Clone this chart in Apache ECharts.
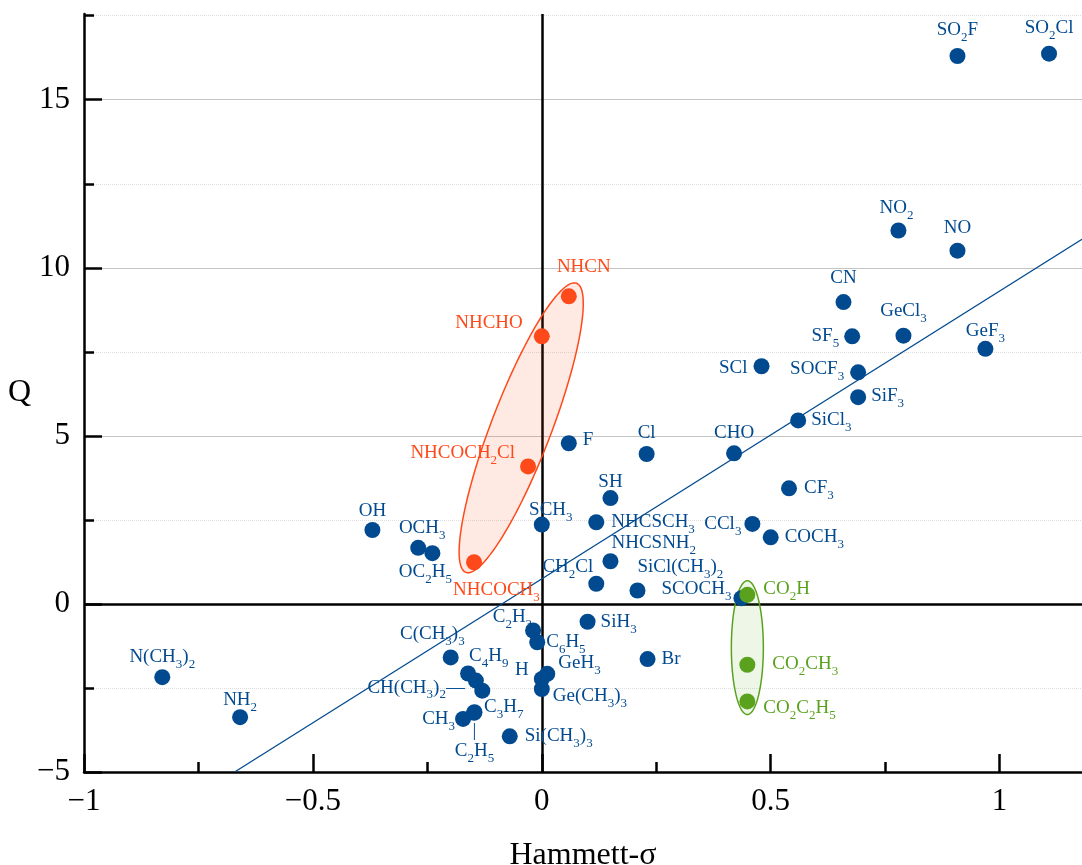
<!DOCTYPE html>
<html>
<head>
<meta charset="utf-8">
<script src="https://cdn.jsdelivr.net/npm/echarts@6/dist/echarts.min.js"></script>
<style>
html, body { margin: 0; padding: 0; background: #fff; }
#chart { width: 1082px; height: 865px; }
</style>
</head>
<body>
<div id="chart"></div>
<script>
// Substituents: Hammett sigma (x) against Q (y)
const blueNames = ['SO2F', 'SO2Cl', 'NO2', 'NO', 'CN', 'SF5', 'GeCl3', 'GeF3', 'SCl', 'SOCF3',
  'SiF3', 'SiCl3', 'CHO', 'CF3', 'CCl3', 'COCH3', 'F', 'Cl', 'SH', 'SCH3',
  'NHCSCH3', 'NHCSNH2', 'OH', 'OCH3', 'OC2H5', 'CH2Cl', 'SiCl(CH3)2', 'SCOCH3', 'C2H3', 'C6H5',
  'C(CH3)3', 'C4H9', 'CH(CH3)2', '', 'GeH3', 'H', 'Ge(CH3)3', 'C3H7', 'C2H5', 'CH3',
  'Si(CH3)3', 'SiH3', 'Br', 'N(CH3)2', 'NH2'];
const blueX = [0.908, 1.108, 0.779, 0.908, 0.659, 0.678, 0.790, 0.969, 0.480, 0.691,
  0.691, 0.560, 0.420, 0.540, 0.460, 0.500, 0.059, 0.229, 0.150, 0.000,
  0.119, 0.150, -0.370, -0.270, -0.239, 0.119, 0.209, 0.436, -0.019, -0.010,
  -0.199, -0.161, -0.144, -0.130, 0.012, 0.000, 0.000, -0.148, -0.147, -0.172,
  -0.070, 0.100, 0.231, -0.829, -0.659];
const blueY = [16.30, 16.37, 11.11, 10.51, 8.98, 7.96, 7.98, 7.59, 7.07, 6.89,
  6.15, 5.46, 4.48, 3.44, 2.38, 1.98, 4.78, 4.46, 3.15, 2.36,
  2.43, 1.27, 2.20, 1.67, 1.51, 0.60, 0.40, 0.17, -0.79, -1.14,
  -1.59, -2.07, -2.28, -2.58, -2.08, -2.23, -2.53, -3.24, -3.22, -3.42,
  -3.94, -0.53, -1.64, -2.18, -3.37];

const orangeNames = ['NHCN', 'NHCHO', 'NHCOCH2Cl', 'NHCOCH3'];
const orangeX = [0.059, 0.000, -0.030, -0.148];
const orangeY = [9.15, 7.96, 4.09, 1.24];

const greenNames = ['CO2H', 'CO2CH3', 'CO2C2H5'];
const greenX = [0.449, 0.449, 0.449];
const greenY = [0.27, -1.81, -2.90];

// Fitted trend line end points
const trendX = [-0.671, 1.18];
const trendY = [-5, 10.85];

const xTicks = [-1, -0.5, 0, 0.5, 1];
const yTicks = [-5, 0, 5, 10, 15];

const BLUE = '#024a8f';
const ORANGE = '#fe4a1a';
const GREEN = '#5aa21e';
const FONT = 'Liberation Serif';

// Label placement per substituent: [anchor, dx, dy, extra]
const place = {
  'SO2F': ['c', 0, -26], 'SO2Cl': ['c', 0, -26], 'NO2': ['c', -2, -22], 'NO': ['c', 0, -23],
  'CN': ['c', 0, -24], 'SF5': ['r', -13, 0], 'GeCl3': ['c', 0, -25], 'GeF3': ['c', 0, -18],
  'SCl': ['r', -14, 2], 'SOCF3': ['r', -14, -3], 'SiF3': ['l', 13, -1], 'SiCl3': ['l', 13, 0],
  'CHO': ['c', 0, -20], 'CF3': ['l', 15, 0], 'CCl3': ['r', -11, 0], 'COCH3': ['l', 14, 0],
  'F': ['l', 14, -3], 'Cl': ['c', 0, -21], 'SH': ['c', 0, -16], 'SCH3': ['c', 9, -15],
  'NHCSCH3': ['l', 15, 0], 'NHCSNH2': ['l', 1, -18], 'OH': ['c', 0, -19], 'OCH3': ['c', 4, -20],
  'OC2H5': ['c', -7, 19], 'CH2Cl': ['r', -3, -17], 'SiCl(CH3)2': ['l', 0, -23], 'SCOCH3': ['r', -10, -9],
  'C2H3': ['r', -1, -13], 'C6H5': ['l', 9, 0], 'C(CH3)3': ['r', 14, -23], 'C4H9': ['l', 1, -17],
  'CH(CH3)2': ['r', -11, 7, 'dash'], 'GeH3': ['l', 11, -11], 'H': ['r', -13, -9], 'Ge(CH3)3': ['l', 11, 7],
  'C3H7': ['l', 10, -6], 'C2H5': ['c', 0, 10, 'bar'], 'CH3': ['r', -8, 0], 'Si(CH3)3': ['l', 15, 0],
  'SiH3': ['l', 13, 0], 'Br': ['l', 14, 0], 'N(CH3)2': ['c', 0, -20], 'NH2': ['c', 0, -17],
  'NHCN': ['c', 15, -29], 'NHCHO': ['r', -19, -13], 'NHCOCH2Cl': ['r', -13, -13], 'NHCOCH3': ['l', -21, 28],
  'CO2H': ['l', 16, -6], 'CO2CH3': ['l', 25, -1], 'CO2C2H5': ['l', 16, 7]
};

// Group outlines: major-axis tips in data units, half width in pixels
const groupOutlines = [
  { from: [0.076, 9.54], to: [-0.166, 0.94], halfWidth: 30, stroke: ORANGE, fill: 'rgba(254,74,26,0.12)' },
  { from: [0.449, 0.69], to: [0.449, -3.29], halfWidth: 16, stroke: GREEN, fill: 'rgba(90,162,30,0.10)' }
];

// chemical formula -> rich text with subscript digits
function chem(name) {
  return name.replace(/(\d+)|([^\d]+)/g, (m, d, t) => d ? '{s|' + d + '}' : '{n|' + t + '}');
}
function labelText(name) {
  if (!name) return '';
  const p = place[name] || [];
  let txt = chem(name);
  if (p[3] === 'dash') txt += '{n|—}';
  if (p[3] === 'bar') txt = '{bar||}\n' + txt;
  return txt;
}
function richFor(color) {
  return {
    n: { color, fontFamily: FONT, fontSize: 19, lineHeight: 22, verticalAlign: 'middle' },
    s: { color, fontFamily: FONT, fontSize: 13, lineHeight: 22, padding: [15, 0, 0, 0], verticalAlign: 'middle' },
    bar: { color, fontFamily: FONT, fontSize: 19, lineHeight: 18, verticalAlign: 'middle' }
  };
}
function items(names, xs, ys) {
  return names.map((name, i) => {
    const p = place[name] || ['c', 0, -20];
    return {
      name,
      value: [xs[i], ys[i]],
      label: {
        align: p[0] === 'l' ? 'left' : (p[0] === 'r' ? 'right' : 'center'),
        verticalAlign: p[3] === 'bar' ? 'top' : 'middle',
        offset: [p[1], p[2]]
      }
    };
  });
}
function pointSeries(names, xs, ys, color) {
  return {
    type: 'scatter',
    z: 5,
    symbol: 'circle',
    symbolSize: 16,
    itemStyle: { color, opacity: 1 },
    label: {
      show: true,
      position: 'inside',
      formatter: (p) => labelText(p.name),
      rich: richFor(color)
    },
    emphasis: { disabled: true },
    data: items(names, xs, ys)
  };
}
function outlineSeries(o) {
  return {
    type: 'custom',
    z: 2,
    silent: true,
    data: [[o.from[0], o.from[1], o.to[0], o.to[1]]],
    encode: { x: [0, 2], y: [1, 3] },
    renderItem(params, api) {
      const a = api.coord([api.value(0), api.value(1)]);
      const b = api.coord([api.value(2), api.value(3)]);
      const cx = (a[0] + b[0]) / 2, cy = (a[1] + b[1]) / 2;
      const hx = (a[0] - b[0]) / 2, hy = (a[1] - b[1]) / 2;
      const ra = Math.hypot(hx, hy);
      const ux = hx / ra, uy = hy / ra;
      const pts = [];
      for (let i = 0; i < 120; i++) {
        const t = i / 120 * Math.PI * 2;
        const c = Math.cos(t) * ra, s = Math.sin(t) * o.halfWidth;
        pts.push([cx + ux * c - uy * s, cy + uy * c + ux * s]);
      }
      return { type: 'polygon', shape: { points: pts }, style: { fill: o.fill, stroke: o.stroke, lineWidth: 1.5 } };
    }
  };
}
const num = (v) => String(v).replace('-', '\u2212');

const chart = echarts.init(document.getElementById('chart'), null, { renderer: 'canvas' });
chart.setOption({
  animation: false,
  backgroundColor: '#fff',
  grid: { left: 84, right: 0, top: 14, bottom: 93, containLabel: false, outerBoundsMode: 'none' },
  xAxis: {
    type: 'value', min: -1, max: 1.18, interval: 0.5,
    axisLine: { onZero: false, lineStyle: { color: '#000', width: 2.5 } },
    axisTick: { inside: true, length: 18, customValues: xTicks, lineStyle: { color: '#000', width: 2.5 } },
    minorTick: { show: true, splitNumber: 2, length: 10, lineStyle: { color: '#000', width: 2.5 } },
    axisLabel: { customValues: xTicks, formatter: num, fontSize: 31, fontFamily: FONT, color: '#000', margin: 14 },
    splitLine: { show: false },
    name: 'Hammett-σ', nameLocation: 'middle', nameGap: 68,
    nameTextStyle: { fontSize: 32, fontFamily: FONT, color: '#000' }
  },
  yAxis: {
    type: 'value', min: -5, max: 17.55, interval: 5,
    axisLine: { onZero: false, lineStyle: { color: '#000', width: 2.5 } },
    axisTick: { inside: true, length: 18, customValues: yTicks, lineStyle: { color: '#000', width: 2.5 } },
    minorTick: { show: true, splitNumber: 2, length: 10, lineStyle: { color: '#000', width: 2.5 } },
    axisLabel: { customValues: yTicks, formatter: num, fontSize: 31, fontFamily: FONT, color: '#000', margin: 14 },
    splitLine: { show: true, lineStyle: { color: '#c4c4c4', width: 1.2 } },
    minorSplitLine: { show: true, lineStyle: { color: '#dedede', width: 1, type: 'dotted' } },
    name: 'Q', nameLocation: 'middle', nameRotate: 0, nameGap: 51,
    nameTextStyle: { fontSize: 32, fontFamily: FONT, color: '#000', padding: [0, 0, 32, 0] }
  },
  series: [
    {
      type: 'line',
      z: 3,
      silent: true,
      symbol: 'none',
      lineStyle: { color: BLUE, width: 1.3 },
      data: trendX.map((x, i) => [x, trendY[i]]),
      markLine: {
        z: 1,
        silent: true,
        symbol: ['none', 'none'],
        label: { show: false },
        lineStyle: { color: '#000', width: 2.5, type: 'solid' },
        data: [{ xAxis: 0 }, { yAxis: 0 }]
      }
    },
    ...groupOutlines.map(outlineSeries),
    pointSeries(blueNames, blueX, blueY, BLUE),
    pointSeries(orangeNames, orangeX, orangeY, ORANGE),
    pointSeries(greenNames, greenX, greenY, GREEN)
  ]
});
</script>
</body>
</html>
